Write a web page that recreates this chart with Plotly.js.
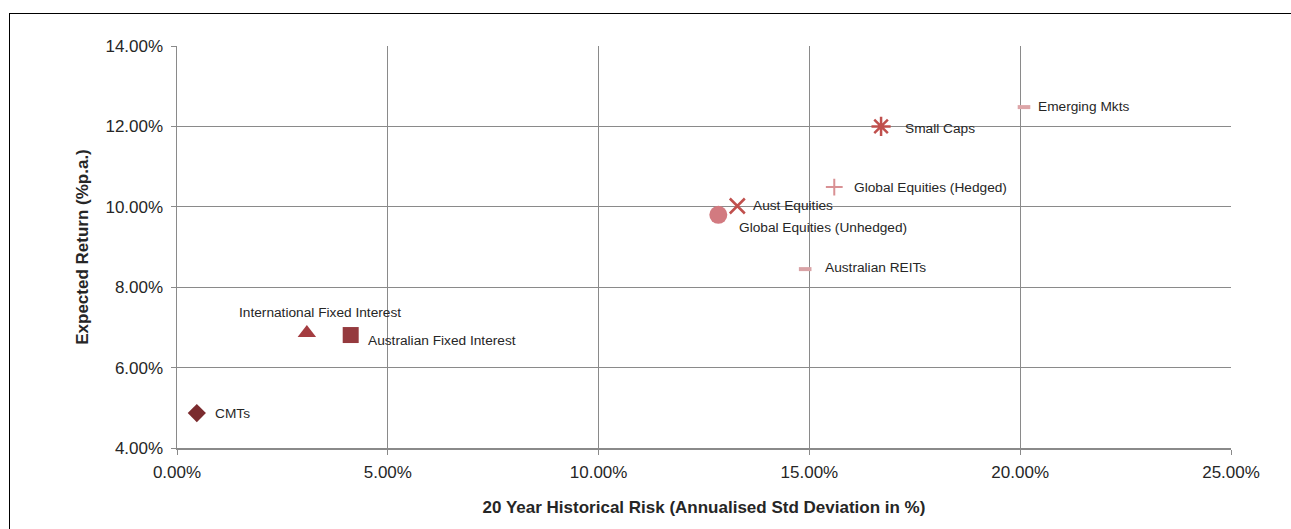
<!DOCTYPE html>
<html>
<head>
<meta charset="utf-8">
<script src="https://cdn.plot.ly/plotly-3.0.1.min.js"></script>
<style>
  html, body { margin: 0; padding: 0; background: #fff; }
  #wrap { position: relative; width: 1291px; height: 529px; overflow: hidden; }
  #frame { position: absolute; left: 9px; top: 13px; width: 1300px; height: 600px; border: 1px solid #000; box-sizing: border-box; }
  #chart { position: absolute; left: 0; top: 0; width: 1291px; height: 529px; }
</style>
</head>
<body>
<div id="wrap">
  <div id="frame"></div>
  <div id="chart"></div>
</div>
<script>
// Data
const assetNames = ["CMTs", "International Fixed Interest", "Australian Fixed Interest",
  "Global Equities (Unhedged)", "Aust Equities", "Global Equities (Hedged)",
  "Australian REITs", "Small Caps", "Emerging Mkts"];
const riskPct = [0.47, 3.08, 4.12, 12.84, 13.29, 15.59, 14.90, 16.70, 20.09];
const returnPct = [4.87, 6.86, 6.81, 9.80, 10.02, 10.49, 8.45, 12.00, 12.48];

const xTickVals = [0, 5, 10, 15, 20, 25];
const yTickVals = [4, 6, 8, 10, 12, 14];
const xTickText = ["0.00%", "5.00%", "10.00%", "15.00%", "20.00%", "25.00%"];
const yTickText = ["4.00%", "6.00%", "8.00%", "10.00%", "12.00%", "14.00%"];

// Marker styles (one per asset)
const styles = [
  {symbol: "diamond", size: 14, color: "#7B2B2E", open: false},
  {symbol: "triangle-up", size: 16, color: "#A43C40", open: false},
  {symbol: "square", size: 16, color: "#953A3E", open: false},
  {symbol: "circle", size: 18, color: "#D27A80", open: false},
  {symbol: "x-thin-open", size: 15, color: "#C0504D", open: true, lw: 2.5},
  {symbol: "cross-thin-open", size: 12, color: "#D99194", open: true, lw: 2},
  {symbol: "line-ew-open", size: 9, color: "#D9A3A6", open: true, lw: 4},
  {symbol: "asterisk-open", size: 16, color: "#C0504D", open: true, lw: 2.5},
  {symbol: "line-ew-open", size: 9, color: "#DDA5A8", open: true, lw: 4}
];
// label offsets in pixels
const labelOffsets = [
  {dx: 16, dy: 0, anchor: "left"},
  {dx: 13, dy: 21, anchor: "center"},
  {dx: 15, dy: -5, anchor: "left"},
  {dx: 19, dy: -13, anchor: "left"},
  {dx: 14, dy: 1, anchor: "left"},
  {dx: 18, dy: 0, anchor: "left"},
  {dx: 18, dy: 2, anchor: "left"},
  {dx: 22, dy: -2, anchor: "left"},
  {dx: 12, dy: 1, anchor: "left"}
];

const traces = assetNames.map((name, i) => {
  const s = styles[i];
  const marker = {symbol: s.symbol, size: s.size, color: s.color};
  if (s.open) marker.line = {color: s.color, width: s.lw};
  else marker.line = {width: 0};
  return {
    type: "scatter", mode: "markers", name: name,
    x: [riskPct[i]], y: [returnPct[i]],
    marker: marker, showlegend: false, hoverinfo: "name"
  };
});

const annotations = assetNames.map((name, i) => ({
  x: riskPct[i], y: returnPct[i], xref: "x", yref: "y",
  text: name, showarrow: false,
  xanchor: labelOffsets[i].anchor, yanchor: "middle",
  xshift: labelOffsets[i].dx, yshift: labelOffsets[i].dy,
  font: {family: "Liberation Sans, Arial, sans-serif", size: 13.7, color: "#262626"}
}));

const layout = {
  width: 1291, height: 529,
  margin: {l: 177, r: 60, t: 46, b: 81},
  paper_bgcolor: "rgba(0,0,0,0)",
  plot_bgcolor: "rgba(0,0,0,0)",
  font: {family: "Liberation Sans, Arial, sans-serif", color: "#262626"},
  xaxis: {
    range: [0, 25], tickvals: xTickVals, ticktext: xTickText,
    showgrid: true, gridcolor: "#8A8A8A", gridwidth: 1,
    showline: true, linecolor: "#8A8A8A", linewidth: 1.5,
    ticks: "outside", ticklen: 5, tickcolor: "#8A8A8A",
    zeroline: false, tickfont: {size: 17}, ticklabelstandoff: 3,
    title: {text: "<b>20 Year Historical Risk (Annualised Std Deviation in %)</b>", font: {size: 17}, standoff: 20}
  },
  yaxis: {
    range: [4, 14], tickvals: yTickVals, ticktext: yTickText,
    showgrid: true, gridcolor: "#8A8A8A", gridwidth: 1,
    showline: true, linecolor: "#8A8A8A", linewidth: 1.5,
    ticks: "outside", ticklen: 5, tickcolor: "#8A8A8A",
    zeroline: false, tickfont: {size: 17}, ticklabelstandoff: 4,
    title: {text: "<b>Expected Return (%p.a.)</b>", font: {size: 17}, standoff: 12}
  },
  annotations: annotations
};

Plotly.newPlot("chart", traces, layout, {displayModeBar: false, staticPlot: true});
</script>
</body>
</html>
